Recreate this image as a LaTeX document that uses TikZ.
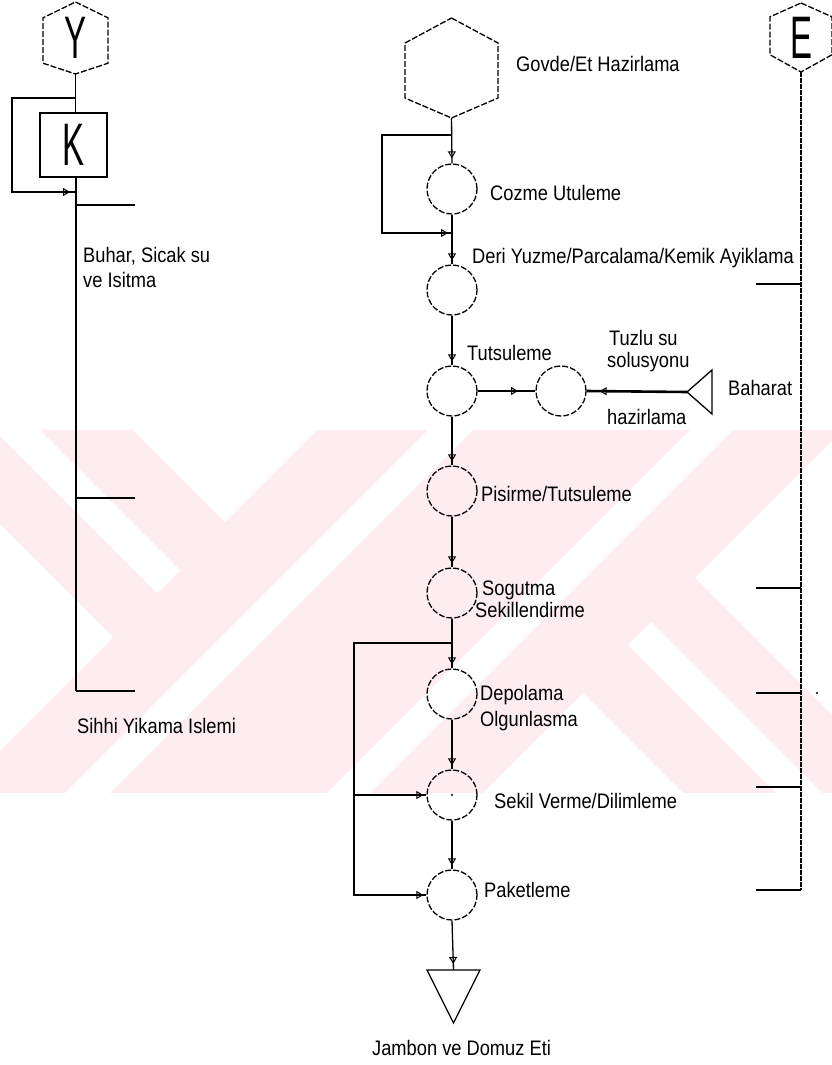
\documentclass[tikz,border=0pt]{standalone}
\usepackage{fontspec}
\setmainfont{Liberation Sans}[FakeStretch=0.87]
\newfontfamily\letterfont{Liberation Sans}[FakeStretch=0.55]
\usetikzlibrary{calc,arrows.meta,decorations.markings}
\definecolor{wm}{RGB}{253,237,241}
\tikzset{
  ln/.style={line width=1.3pt, draw=black},
  dsh/.style={line width=1.3pt, draw=black, dash pattern=on 6pt off 2pt},
  proc/.style={circle, dsh, minimum size=50pt, inner sep=0pt},
  box/.style={inner sep=0pt, outer sep=0pt},
  lbl/.style={font=\fontsize{21}{24}\selectfont, inner sep=0pt, anchor=base west},
  big/.style={font=\letterfont\fontsize{60}{60}\selectfont},
  ar/.style={postaction={decorate}, decoration={markings, mark=at position #1 with {\arrow[line width=1pt]{Triangle[open,length=7pt,width=8pt]}}}},
  ar/.default=-4pt,
}
\begin{document}
\begin{tikzpicture}[x=1pt,y=-1pt]
\useasboundingbox (0,0) rectangle (832,1065);
% watermark
\begin{scope}
\clip (0,430) rectangle (832,793);
\fill[wm] (0,430) rectangle (832,793);
\fill[white] (133,430) -- (317,430) -- (225,522) -- cycle;
\fill[white] (10,400) -- (180,570) -- (157,593) -- (-36,400) -- cycle;
\fill[white] (113,637) -- (-100,424) -- (-100,850) -- cycle;
\fill[white] (458,400) -- (503,400) -- (53,850) -- (8,850) -- cycle;
\fill[white] (720,400) -- (763,400) -- (313,850) -- (270,850) -- cycle;
\fill[white] (695,578) -- (1000,273) -- (1000,883) -- cycle;
\fill[white] (651,622) -- (929,900) -- (883,900) -- (628,645) -- cycle;
\fill[white] (583,693) -- (790,900) -- (376,900) -- cycle;
\end{scope}

% ---------- left column ----------
\node[box, big, minimum width=65pt, minimum height=72pt] (hy) at (75.5,38) {Y};
\draw[dsh] (hy.north) -- ($(hy.north east)!.22!(hy.south east)$) -- ($(hy.north east)!.85!(hy.south east)$) -- (hy.south) -- ($(hy.north west)!.85!(hy.south west)$) -- ($(hy.north west)!.22!(hy.south west)$) -- cycle;
\node[ln, big, minimum width=67pt, minimum height=64pt, inner sep=0pt] (kb) at (73.5,145) {K};
\coordinate (kj1) at (75,98);
\coordinate (kj2) at (75,192);
\coordinate (kl1) at (76,205);
\coordinate (kl2) at (76,498);
\coordinate (kl3) at (76,691);
\draw[ln] (hy.south) -- (hy.south |- kb.north);
\draw[ln, ar=-5pt] (kj1) -- ++(-63,0) |- (kj2);
\draw[ln] (kb.south -| kl1) -- (kl3);
\draw[ln] (kl1) -- ++(59,0);
\draw[ln] (kl2) -- ++(59,0);
\draw[ln] (kl3) -- ++(59,0);
\node[lbl] (tb1) at (83,262) {Buhar, Sicak su};
\node[lbl] (tb2) at (83,287) {ve Isitma};
\node[lbl] (tb3) at (77,733) {Sihhi Yikama Islemi};

% ---------- main column ----------
\node[box, minimum width=93pt, minimum height=100pt] (gh) at (451.5,68) {};
\draw[dsh] (gh.north) -- ($(gh.north east)!.25!(gh.south east)$) -- ($(gh.north east)!.8!(gh.south east)$) -- (gh.south) -- ($(gh.north west)!.8!(gh.south west)$) -- ($(gh.north west)!.25!(gh.south west)$) -- cycle;
\node[proc] (c1) at (452,189) {};
\node[proc] (c2) at (452,290) {};
\node[proc] (c3) at (452,391) {};
\node[proc] (c4) at (561,391) {};
\node[proc] (c5) at (452,491) {};
\node[proc] (c6) at (452,593) {};
\node[proc] (c7) at (452,694) {};
\node[proc] (c8) at (452,795) {};
\node[proc] (c9) at (452,895) {};
\node[box, minimum width=25pt, minimum height=44pt] (bh) at (699.5,392) {};
\draw[ln] (bh.west) -- (bh.north east) -- (bh.south east) -- cycle;
\node[box, minimum width=53pt, minimum height=53pt] (jt) at (453.5,996.5) {};
\draw[ln] (jt.north west) -- (jt.north east) -- (jt.south) -- cycle;

\coordinate (gj) at (452,135);
\coordinate (gk) at (452,233);
\coordinate (sj) at (452,643);
\coordinate (lp) at (354,643);

\draw[ln, ar=-5pt] (gh.south) -- (c1.north);
\draw[ln, ar=-4pt] (gj) -- ++(-70,0) |- (gk);
\draw[ln, ar] (c1.south) -- (c2.north);
\draw[ln, ar] (c2.south) -- (c3.north);
\draw[ln, ar=0.7] (c3.east) -- (c4.west);
\draw[line width=2.6pt, ar=-13pt] (bh.west) -- (c4.east);
\draw[ln, ar] (c3.south) -- (c5.north);
\draw[ln, ar] (c5.south) -- (c6.north);
\draw[ln, ar] (c6.south) -- (c7.north);
\draw[ln] (sj) -- (lp) |- (c9.west);
\draw[ln, ar=-3pt] (lp |- c8.west) -- (c8.west);
\draw[ln, ar=-3pt] (lp |- c9.west) -- (c9.west);
\draw[ln, ar] (c7.south) -- (c8.north);
\draw[ln, ar] (c8.south) -- (c9.north);
\draw[ln, ar=-6pt] (c9.south) -- (jt.north);
\fill (c8.center) circle (1.2pt);

\node[lbl] (t1) at (516,71) {Govde/Et Hazirlama};
\node[lbl] (t2) at (490,200) {Cozme Utuleme};
\node[lbl] (t3) at (472,263) {Deri Yuzme/Parcalama/Kemik Ayiklama};
\node[lbl] (t4) at (467,360) {Tutsuleme};
\node[lbl] (t5) at (609,345) {Tuzlu su};
\node[lbl] (t6) at (607,367) {solusyonu};
\node[lbl] (t7) at (607,424) {hazirlama};
\node[lbl] (t8) at (728,395) {Baharat};
\node[lbl] (t9) at (481,501) {Pisirme/Tutsuleme};
\node[lbl] (t10) at (482,595) {Sogutma};
\node[lbl] (t11) at (475,617) {Sekillendirme};
\node[lbl] (t12) at (480,700) {Depolama};
\node[lbl] (t13) at (480,726) {Olgunlasma};
\node[lbl] (t14) at (494,808) {Sekil Verme/Dilimleme};
\node[lbl] (t15) at (484,897) {Paketleme};
\node[lbl] (t16) at (372,1055) {Jambon ve Domuz Eti};

% ---------- right column ----------
\node[box, big, minimum width=62pt, minimum height=69pt] (he) at (801,37.5) {E};
\draw[dsh] (he.north) -- ($(he.north east)!.2!(he.south east)$) -- ($(he.north east)!.75!(he.south east)$) -- (he.south) -- ($(he.north west)!.75!(he.south west)$) -- ($(he.north west)!.2!(he.south west)$) -- cycle;
\coordinate (er1) at (801,284);
\coordinate (er2) at (801,588);
\coordinate (er3) at (801,693);
\coordinate (er4) at (801,787);
\coordinate (er5) at (801,890);
\draw[ln, dash pattern=on 5pt off 1pt] (he.south) -- (er5);
\draw[ln] (er1) -- ++(-45,0);
\draw[ln] (er2) -- ++(-45,0);
\draw[ln] (er3) -- ++(-45,0);
\draw[ln] (er4) -- ++(-45,0);
\draw[ln] (er5) -- ++(-45,0);
\fill (817,693) circle (1.2pt);
\end{tikzpicture}
\end{document}
